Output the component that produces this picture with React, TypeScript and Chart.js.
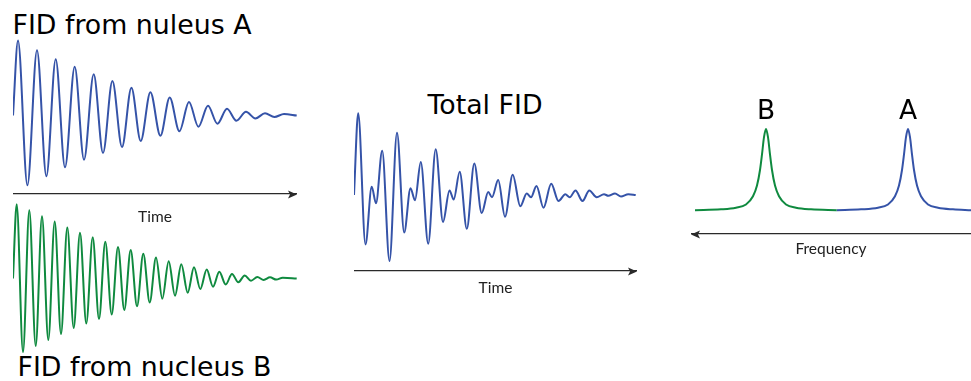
import React, { useEffect, useRef } from "react";
import { Chart, registerables } from "chart.js";

Chart.register(...registerables);

// ---------- colours ----------
const BLUE = "#3553a8";
const GREEN = "#0f8a3f";
const AXIS = "#2a2a2a";

// ---------- FID from nucleus A (time units, relative amplitude) ----------
const fidATime = [0, 5.0, 14.4, 24.0, 33.4, 42.7, 52.0, 61.7, 71.0, 80.7, 90.0, 99.4, 109.0, 118.4, 127.7, 137.4, 147.4, 156.7, 166.4, 176.0, 185.4, 195.0, 204.4, 214.0, 223.4, 233.0, 242.4, 252.0, 261.4, 271.0, 283.7];
const fidAAmp = [0, 1.0, -0.93, 0.87, -0.81, 0.75, -0.69, 0.65, -0.59, 0.55, -0.5, 0.46, -0.42, 0.37, -0.34, 0.31, -0.27, 0.24, -0.21, 0.18, -0.15, 0.13, -0.11, 0.09, -0.07, 0.05, -0.04, 0.03, -0.02, 0.02, 0];

// ---------- FID from nucleus B ----------
const fidBTime = [0, 3.7, 10.0, 16.3, 22.7, 29.0, 35.3, 41.7, 48.0, 54.3, 60.7, 67.0, 73.3, 79.7, 86.0, 92.3, 98.7, 105.0, 111.3, 117.7, 124.0, 130.3, 136.7, 143.0, 149.3, 155.7, 162.0, 168.3, 174.7, 181.0, 187.3, 193.7, 200.0, 206.3, 212.7, 219.0, 225.3, 231.7, 238.0, 244.3, 250.7, 257.0, 263.3, 269.7, 283.7];
const fidBAmp = [0, 0.99, -0.98, 0.91, -0.9, 0.83, -0.82, 0.76, -0.74, 0.68, -0.66, 0.61, -0.6, 0.55, -0.54, 0.49, -0.48, 0.42, -0.42, 0.38, -0.37, 0.33, -0.32, 0.28, -0.27, 0.23, -0.23, 0.19, -0.19, 0.15, -0.14, 0.12, -0.11, 0.09, -0.08, 0.06, -0.05, 0.04, -0.03, 0.02, -0.02, 0.015, -0.015, 0.01, 0];

// ---------- Total FID ----------
const totTime = [0, 4.2, 11.5, 17.7, 22.0, 28.2, 35.5, 43.0, 50.2, 56.5, 61.0, 66.8, 74.2, 81.7, 89.0, 95.5, 99.7, 105.7, 112.8, 120.3, 127.7, 134.2, 138.0, 144.2, 151.0, 158.7, 166.3, 172.7, 177.0, 182.5, 189.5, 197.2, 204.5, 211.3, 215.7, 221.5, 228.5, 235.3, 242.7, 250.0, 254.3, 261.0, 267.0, 274.3, 281.7];
const totAmp = [0, 1.09, -0.66, 0.11, -0.11, 0.59, -0.88, 0.83, -0.5, 0.09, -0.07, 0.44, -0.65, 0.61, -0.36, 0.06, -0.06, 0.31, -0.45, 0.42, -0.24, 0.04, -0.03, 0.2, -0.29, 0.27, -0.15, 0.02, -0.03, 0.12, -0.17, 0.15, -0.08, 0.01, -0.03, 0.06, -0.08, 0.06, -0.03, 0.01, -0.01, 0.02, -0.02, 0.01, 0];

// ---------- Spectrum (frequency units, relative intensity) ----------
const specBFreq = [276, 250, 235, 225, 218, 214, 211, 209, 207, 205, 203, 201, 199, 196, 192, 185, 175, 160, 134.3];
const specBInt = [0.01, 0.02, 0.04, 0.08, 0.18, 0.31, 0.5, 0.69, 0.9, 1.0, 0.9, 0.69, 0.5, 0.31, 0.18, 0.08, 0.04, 0.02, 0.01];
const specAFreq = [134.3, 110, 93, 83, 76, 72, 69, 67, 65, 63, 61, 59, 57, 54, 50, 43, 33, 18, 0];
const specAInt = [0.01, 0.02, 0.04, 0.08, 0.18, 0.31, 0.5, 0.69, 0.9, 1.0, 0.9, 0.69, 0.5, 0.31, 0.18, 0.08, 0.04, 0.02, 0.01];

const peakNames = ["B", "A"];
const peakFreqs = [205, 63];
const peakInts = [1, 1];

// ---------- texts ----------
const titleA = "FID from nuleus A";
const titleB = "FID from nucleus B";
const titleTotal = "Total FID";
const timeLabel = "Time";
const freqLabel = "Frequency";

// ---------- plugins ----------
const arrowPlugin = {
  id: "axisArrow",
  afterDraw(chart: any, _args: any, opts: any) {
    if (!opts || !opts.dir) return;
    const s = chart.scales.x;
    const ctx = chart.ctx;
    const y = Math.round(s.top) + 0.5;
    const right = opts.dir === "right";
    const tip = right ? s.right : s.left;
    const back = right ? tip - 9 : tip + 9;
    const notch = right ? back + 2 : back - 2;
    ctx.save();
    ctx.fillStyle = opts.color || AXIS;
    ctx.beginPath();
    ctx.moveTo(tip, y);
    ctx.lineTo(back, y - 4);
    ctx.lineTo(notch, y);
    ctx.lineTo(back, y + 4);
    ctx.closePath();
    ctx.fill();
    ctx.restore();
  },
};

const peakLabelPlugin = {
  id: "peakLabels",
  afterDraw(chart: any, _args: any, opts: any) {
    if (!opts || !opts.names) return;
    const xs = chart.scales.x;
    const ys = chart.scales.y;
    const ctx = chart.ctx;
    ctx.save();
    ctx.font = '26.5px "DejaVu Sans"';
    ctx.fillStyle = "#000";
    ctx.textAlign = "center";
    ctx.textBaseline = "alphabetic";
    opts.names.forEach((n: string, i: number) => {
      ctx.fillText(n, xs.getPixelForValue(opts.freqs[i]), ys.getPixelForValue(opts.ints[i]) - 10);
    });
    ctx.restore();
  },
};

// ---------- helpers ----------
const pts = (xs: number[], ys: number[]) => xs.map((x, i) => ({ x, y: ys[i] }));

const lineDs = (data: any[], color: string) => ({
  data,
  borderColor: color,
  borderWidth: 2,
  pointRadius: 0,
  fill: false,
  tension: 0.4,
  cubicInterpolationMode: "monotone",
  clip: false,
});

function makeOptions(p: {
  xmin: number; xmax: number; ymin: number; ymax: number; reverse?: boolean;
  axisTitle?: string; axisH?: number; arrow?: string; peaks?: any;
}) {
  const showAxis = !!p.axisTitle;
  return {
    responsive: false,
    animation: false,
    devicePixelRatio: 1,
    events: [],
    layout: { padding: 0 },
    plugins: {
      legend: { display: false },
      tooltip: { enabled: false },
      title: { display: false },
      axisArrow: p.arrow ? { dir: p.arrow, color: AXIS } : {},
      peakLabels: p.peaks || {},
    },
    scales: {
      x: {
        type: "linear",
        min: p.xmin,
        max: p.xmax,
        reverse: !!p.reverse,
        display: showAxis,
        grid: { display: false, drawTicks: false },
        ticks: { display: false },
        border: { display: true, color: AXIS, width: 1.2 },
        title: {
          display: showAxis,
          text: p.axisTitle || "",
          color: "#222",
          font: { family: "Lato", size: 15.5, lineHeight: 1.2 },
          padding: 0,
        },
        afterFit: (s: any) => {
          if (showAxis) s.height = p.axisH || 30;
        },
      },
      y: { type: "linear", min: p.ymin, max: p.ymax, display: false },
    },
  };
}

const makeA = () => ({
  type: "line",
  data: { datasets: [lineDs(pts(fidATime, fidAAmp), BLUE)] },
  options: makeOptions({ xmin: 0, xmax: 284, ymin: -1.0467, ymax: 1.14, axisTitle: timeLabel, axisH: 32, arrow: "right" }),
  plugins: [arrowPlugin],
});

const makeB = () => ({
  type: "line",
  data: { datasets: [lineDs(pts(fidBTime, fidBAmp), GREEN)] },
  options: makeOptions({ xmin: 0, xmax: 284, ymin: -1.0867, ymax: 1.1133 }),
});

const makeTotal = () => ({
  type: "line",
  data: { datasets: [lineDs(pts(totTime, totAmp), BLUE)] },
  options: makeOptions({ xmin: 0, xmax: 283, ymin: -1.0133, ymax: 1.2, axisTitle: timeLabel, axisH: 26, arrow: "right" }),
  plugins: [arrowPlugin],
});

const makeSpec = () => ({
  type: "line",
  data: {
    datasets: [
      lineDs(pts(specBFreq, specBInt), GREEN),
      lineDs(pts(specAFreq, specAInt), BLUE),
    ],
  },
  options: makeOptions({
    xmin: 0, xmax: 280, reverse: true, ymin: -0.2805, ymax: 1.4756,
    axisTitle: freqLabel, axisH: 24, arrow: "left",
    peaks: { names: peakNames, freqs: peakFreqs, ints: peakInts },
  }),
  plugins: [arrowPlugin, peakLabelPlugin],
});

function Panel({ left, top, width, height, make }: { left: number; top: number; width: number; height: number; make: () => any }) {
  const ref = useRef<HTMLCanvasElement>(null);
  useEffect(() => {
    const chart = new Chart(ref.current as HTMLCanvasElement, make());
    return () => chart.destroy();
  }, [make]);
  return (
    <canvas
      ref={ref}
      width={width}
      height={height}
      style={{ position: "absolute", left, top, width, height }}
    />
  );
}

const titleStyle: React.CSSProperties = {
  position: "absolute",
  fontFamily: '"DejaVu Sans"',
  fontSize: 26.8,
  lineHeight: "26.8px",
  color: "#000",
  whiteSpace: "nowrap",
};

export default function App() {
  return (
    <div style={{ position: "absolute", left: 0, top: 0, width: 971, height: 381, background: "#fff", overflow: "hidden" }}>
      <div style={{ ...titleStyle, left: 12.5, top: 12.3 }}>{titleA}</div>
      <div style={{ ...titleStyle, left: 17.5, top: 354 }}>{titleB}</div>
      <div style={{ ...titleStyle, left: 385, top: 91.6, width: 200, textAlign: "center" }}>{titleTotal}</div>
      <Panel left={13} top={195} width={284} height={165} make={makeB} />
      <Panel left={13} top={30} width={284} height={196} make={makeA} />
      <Panel left={354} top={105} width={283} height={192} make={makeTotal} />
      <Panel left={691} top={90} width={280} height={168} make={makeSpec} />
    </div>
  );
}
